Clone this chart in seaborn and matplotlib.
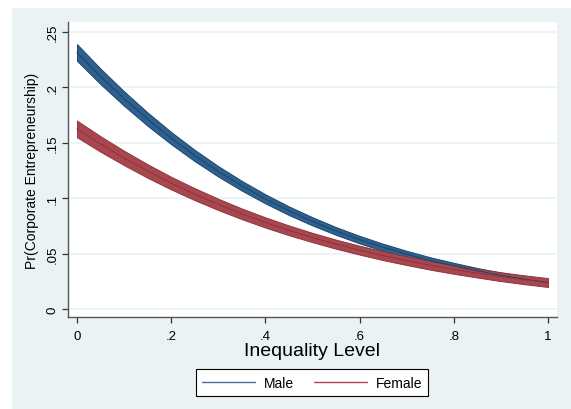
import numpy as np
import pandas as pd
import matplotlib
matplotlib.use("Agg")
import matplotlib.pyplot as plt
import seaborn as sns
from matplotlib.patches import Rectangle

# Predicted probabilities
inequality = [0.00, 0.05, 0.10, 0.15, 0.20, 0.25, 0.30, 0.35, 0.40, 0.45, 0.50,
              0.55, 0.60, 0.65, 0.70, 0.75, 0.80, 0.85, 0.90, 0.95, 1.00]
male_pr = [0.2315, 0.2099, 0.1899, 0.1713, 0.1542, 0.1385, 0.1242, 0.1112, 0.0994, 0.0887, 0.0791,
           0.0704, 0.0626, 0.0557, 0.0494, 0.0438, 0.0389, 0.0344, 0.0305, 0.0270, 0.0239]
male_ci = [0.0075, 0.0070, 0.0065, 0.0060, 0.0055, 0.0051, 0.0047, 0.0044, 0.0041, 0.0039, 0.0037,
           0.0035, 0.0034, 0.0032, 0.0031, 0.0029, 0.0028, 0.0026, 0.0024, 0.0022, 0.0020]
female_pr = [0.1625, 0.1489, 0.1363, 0.1245, 0.1136, 0.1036, 0.0944, 0.0859, 0.0781, 0.0710, 0.0645,
             0.0585, 0.0531, 0.0481, 0.0436, 0.0394, 0.0357, 0.0323, 0.0292, 0.0264, 0.0239]
female_ci = [0.0075, 0.0070, 0.0065, 0.0061, 0.0057, 0.0054, 0.0051, 0.0048, 0.0046, 0.0044, 0.0042,
             0.0041, 0.0040, 0.0040, 0.0039, 0.0039, 0.0039, 0.0039, 0.0040, 0.0040, 0.0040]

x_ticks = [0, 0.2, 0.4, 0.6, 0.8, 1.0]
x_tick_labels = ["0", ".2", ".4", ".6", ".8", "1"]
y_ticks = [0, 0.05, 0.10, 0.15, 0.20, 0.25]
y_tick_labels = ["0", ".05", ".1", ".15", ".2", ".25"]

sns.set_style("white")
plt.rcParams['font.family'] = ['Liberation Sans', 'DejaVu Sans']
plt.rcParams['text.color'] = 'black'
plt.rcParams['axes.labelcolor'] = 'black'

navy_fill = "#30608e"
navy_edge = "#1a476f"
maroon_fill = "#a8474f"
maroon_edge = "#90353b"
bg = "#eaf2f3"

df = pd.DataFrame({
    "x": inequality * 2,
    "pr": male_pr + female_pr,
    "ci": male_ci + female_ci,
    "group": ["Male"] * len(inequality) + ["Female"] * len(inequality),
})
df["lo"] = df["pr"] - df["ci"]
df["hi"] = df["pr"] + df["ci"]

fig = plt.figure(figsize=(5.71, 4.10), dpi=100, facecolor="white")
fig.patches.append(Rectangle((12 / 571, 0), 1 - 12 / 571, 1 - 9 / 410,
                             transform=fig.transFigure, facecolor=bg,
                             edgecolor="none", zorder=-5))
ax = fig.add_axes([68 / 571, 1 - 318 / 410, (557 - 68) / 571, (318 - 23) / 410])
ax.set_zorder(2)
ax.set_facecolor("white")

colors = {"Male": (navy_fill, navy_edge), "Female": (maroon_fill, maroon_edge)}
for name in ["Male", "Female"]:
    sub = df[df["group"] == name]
    fill, edge = colors[name]
    ax.fill_between(sub["x"], sub["lo"], sub["hi"], facecolor=fill,
                    edgecolor=edge, linewidth=0.7, zorder=2)

sns.lineplot(data=df, x="x", y="pr", hue="group",
             palette={"Male": navy_edge, "Female": maroon_edge},
             linewidth=0.8, legend=False, ax=ax, zorder=3)

ax.set_xlim(-0.0191, 1.0191)
ax.set_ylim(-0.0072, 0.259)
ax.set_xticks(x_ticks)
ax.set_xticklabels(x_tick_labels)
ax.set_yticks(y_ticks)
ax.set_yticklabels(y_tick_labels, rotation=90, va="center")
ax.yaxis.grid(True, color=bg, linewidth=1.2)
ax.xaxis.grid(False)
ax.set_axisbelow(True)

for side in ["top", "right"]:
    ax.spines[side].set_visible(False)
for side in ["left", "bottom"]:
    ax.spines[side].set_color("#555555")
    ax.spines[side].set_linewidth(1.0)
ax.tick_params(axis="both", direction="out", length=4, width=0.9,
               color="#333333", labelsize=9.5, labelcolor="black")
ax.tick_params(axis="x", pad=5, bottom=True)
ax.tick_params(axis="y", pad=3, left=True)

ax.set_xlabel("Inequality Level", fontsize=14, labelpad=0)
ax.set_ylabel("Pr(Corporate Entrepreneurship)", fontsize=10, labelpad=5)

handles = [plt.Line2D([], [], color="#4a6f9c", linewidth=1.0),
           plt.Line2D([], [], color="#a8474f", linewidth=1.0)]
leg = fig.legend(handles, ["Male", "Female"], loc="center",
                 bbox_to_anchor=(312 / 571, 1 - 383.5 / 410), ncol=2,
                 fontsize=10, frameon=True, fancybox=False, framealpha=1,
                 handlelength=3.8, handletextpad=0.65, columnspacing=1.45,
                 borderpad=0.45)
leg.get_frame().set_edgecolor("black")
leg.get_frame().set_linewidth(0.8)
leg.get_frame().set_facecolor("white")

fig.savefig("out.png", dpi=100, facecolor=fig.get_facecolor())
